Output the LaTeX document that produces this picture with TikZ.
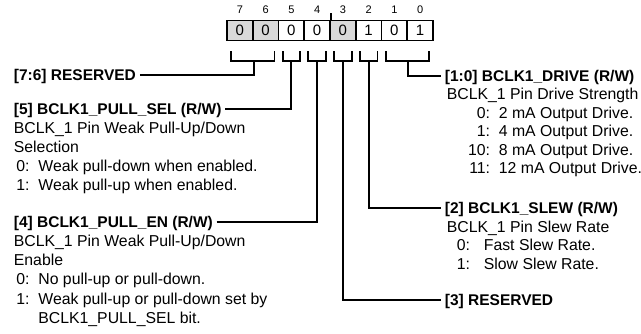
\documentclass[tikz,border=0pt]{standalone}
\usepackage{fontspec}
\setmainfont{Liberation Sans}
\definecolor{rsvgray}{HTML}{D9D9D9}

\begin{document}
\begin{tikzpicture}[x=1pt, y=-1pt, line width=1.8pt,
    cell/.style={draw, minimum width=25.75pt, minimum height=20pt, inner sep=0pt,
      font=\fontsize{15}{17}\selectfont},
    bitnum/.style={inner sep=0pt, font=\fontsize{11}{13}\selectfont},
    fieldhead/.style={anchor=west, inner xsep=3pt, inner ysep=0pt, text height=11pt,
      text depth=0pt, font=\fontsize{15.5}{18}\selectfont\bfseries},
    txt/.style={anchor=west, inner sep=0pt, text height=11pt, text depth=0pt,
      font=\fontsize{15.8}{18}\selectfont},
    key/.style={txt, anchor=east}]
  \useasboundingbox (0,0) rectangle (641,334);

  % register bits
  \foreach \b/\v/\f [count=\i from 0] in {7/0/rsvgray, 6/0/rsvgray, 5/0/white, 4/0/white,
      3/0/rsvgray, 2/1/white, 1/0/white, 0/1/white} {
    \node[cell, fill=\f] (b\b) at (239.875+25.75*\i, 30.5) {\v};
    \node[bitnum] (n\b) at ([yshift=9.5pt]b\b.north) {\b};
  }
  \draw (b4.north east) -- ++(0,7pt);

  % brackets
  \draw ([xshift=5pt,yshift=-10pt]b7.south west) -- ++(0,-10pt) -| ([xshift=-5pt,yshift=-10pt]b6.south east);
  \draw ([xshift=5pt,yshift=-10pt]b1.south west) -- ++(0,-10pt) -| ([xshift=-5pt,yshift=-10pt]b0.south east);
  \foreach \b in {5,4,3,2}
    \draw ([xshift=5pt,yshift=-10pt]b\b.south west) -- ++(0,-10pt) -| ([xshift=-5pt,yshift=-10pt]b\b.south east);
  \coordinate (k76) at ([yshift=-20pt]b7.south east);
  \coordinate (k10) at ([yshift=-20pt]b1.south east);
  \foreach \b in {5,4,3,2}
    \coordinate (k\b) at ([yshift=-20pt]b\b.south);

  % left column
  \node[fieldhead] (res76) at (10,75) {[7:6] RESERVED};

  \node[fieldhead] (pullsel) at (10,109) {[5] BCLK1\_PULL\_SEL (R/W)};
  \node[txt] (selA) at (13,128) {BCLK\_1 Pin Weak Pull-Up/Down};
  \node[txt] (selB) at (13,147) {Selection};
  \node[key] (selk0) at (30.5,166) {0:};
  \node[txt] (sel0) at (37.5,166) {Weak pull-down when enabled.};
  \node[key] (selk1) at (30.5,185) {1:};
  \node[txt] (sel1) at (37.5,185) {Weak pull-up when enabled.};

  \node[fieldhead] (pullen) at (10,222) {[4] BCLK1\_PULL\_EN (R/W)};
  \node[txt] (enA) at (13,241) {BCLK\_1 Pin Weak Pull-Up/Down};
  \node[txt] (enB) at (13,260) {Enable};
  \node[key] (enk0) at (30.5,279.5) {0:};
  \node[txt] (en0) at (37.5,279.5) {No pull-up or pull-down.};
  \node[key] (enk1) at (30.5,299) {1:};
  \node[txt] (en1) at (37.5,299) {Weak pull-up or pull-down set by};
  \node[txt] (en1b) at (37.5,318) {BCLK1\_PULL\_SEL bit.};

  % right column
  \node[fieldhead] (drive) at (441,76) {[1:0] BCLK1\_DRIVE (R/W)};
  \node[txt] (drA) at (446,94.5) {BCLK\_1 Pin Drive Strength};
  \node[key] (drk0) at (491,113) {0:};
  \node[txt] (dr0) at (498,113) {2 mA Output Drive.};
  \node[key] (drk1) at (491,131.5) {1:};
  \node[txt] (dr1) at (498,131.5) {4 mA Output Drive.};
  \node[key] (drk2) at (491,150) {10:};
  \node[txt] (dr2) at (498,150) {8 mA Output Drive.};
  \node[key] (drk3) at (491,168.5) {11:};
  \node[txt] (dr3) at (498,168.5) {12 mA Output Drive.};

  \node[fieldhead] (slew) at (441,208) {[2] BCLK1\_SLEW (R/W)};
  \node[txt] (slA) at (446,227) {BCLK\_1 Pin Slew Rate};
  \node[key] (slk0) at (471,245.5) {0:};
  \node[txt] (sl0) at (483,245.5) {Fast Slew Rate.};
  \node[key] (slk1) at (471,264) {1:};
  \node[txt] (sl1) at (483,264) {Slow Slew Rate.};

  \node[fieldhead] (res3) at (441,300) {[3] RESERVED};

  % connectors
  \draw (res76.east) -| (k76);
  \draw (pullsel.east) -| (k5);
  \draw (pullen.east) -| (k4);
  \draw (k3) |- (res3.west);
  \draw (k2) |- (slew.west);
  \draw (k10) |- (drive.west);
\end{tikzpicture}
\end{document}
